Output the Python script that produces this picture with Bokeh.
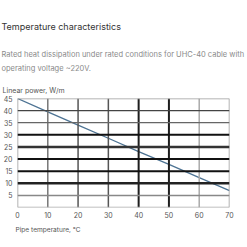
from bokeh.plotting import figure
from bokeh.models import Span, Title, FixedTicker, Range1d
from bokeh.embed import file_html
from bokeh.resources import INLINE

title = "Temperature characteristics"
subtitle = "Rated heat dissipation under rated conditions for UHC-40 cable with\noperating voltage ~220V."
y_title = "Linear power, W/m"
x_title = "Pipe temperature, \u2103"

pipe_temp = [0, 10, 20, 30, 40, 50, 60, 70]
linear_power = [45, 39.5, 34, 28.6, 23.1, 17.8, 12.3, 7]

x_ticks = [0, 10, 20, 30, 40, 50, 60, 70]
y_ticks = [45, 40, 35, 30, 25, 20, 15, 10, 5, 0]

# grid styles (colour, width) per tick
v_styles = [("#9a9a9a", 1.5), ("#777777", 1.5), ("#555555", 1.5), ("#555555", 1.5),
            ("#1e1e1e", 2), ("#1e1e1e", 2), ("#aaaaaa", 1.5), ("#9a9a9a", 1.5)]
h_styles = [("#9a9a9a", 1.5), ("#444444", 1.2), ("#666666", 1.2), ("#111111", 2),
            ("#333333", 2.5), ("#111111", 2), ("#111111", 2), ("#222222", 2.5),
            ("#888888", 1.5), ("#aaaaaa", 1.5)]

p = figure(width=247, height=247, output_backend="svg", toolbar_location=None,
           x_range=Range1d(0, 70), y_range=Range1d(0, 45),
           min_border_left=17, min_border_right=18, min_border_top=98, min_border_bottom=40)
p.outline_line_color = None
p.background_fill_color = "white"
p.border_fill_color = "white"
p.xgrid.visible = False
p.ygrid.visible = False

for t, (c, w) in zip(x_ticks, v_styles):
    p.add_layout(Span(location=t, dimension="height", line_color=c, line_width=w))
for t, (c, w) in zip(y_ticks, h_styles):
    p.add_layout(Span(location=t, dimension="width", line_color=c, line_width=w))

p.line(pipe_temp, linear_power, line_color="#4d7393", line_width=1.3)

for ax in (p.xaxis[0], p.yaxis[0]):
    ax.axis_label = None
    ax.axis_label_standoff = 0
    ax.axis_line_color = None
    ax.major_tick_line_color = None
    ax.minor_tick_line_color = None
    ax.major_tick_out = 0
    ax.major_tick_in = 0
    ax.minor_tick_out = 0
    ax.minor_tick_in = 0
    ax.major_label_text_font = "Inter"
    ax.major_label_text_font_size = "7px"
    ax.major_label_text_color = "#555555"
p.xaxis[0].ticker = FixedTicker(ticks=x_ticks)
p.yaxis[0].ticker = FixedTicker(ticks=[t for t in y_ticks if t > 0])
p.xaxis[0].major_label_standoff = 4
p.yaxis[0].major_label_standoff = 5

def add_title(text, size, color, standoff, offset, place, lh=1.2):
    p.add_layout(Title(text=text, align="left", offset=offset, standoff=standoff,
                       text_font="Inter", text_font_size=size, text_color=color,
                       text_font_style="normal", text_line_height=lh), place)

add_title(y_title, "7px", "#555555", 8, -15, "above")
add_title(subtitle, "7.5px", "#8a8a8a", 13, -16, "above", lh=1.52)
add_title(title, "9px", "#333333", 19, -16, "above")
add_title(x_title, "6.6px", "#555555", 6, -2, "below")

open("out.html", "w").write(file_html(p, INLINE))
